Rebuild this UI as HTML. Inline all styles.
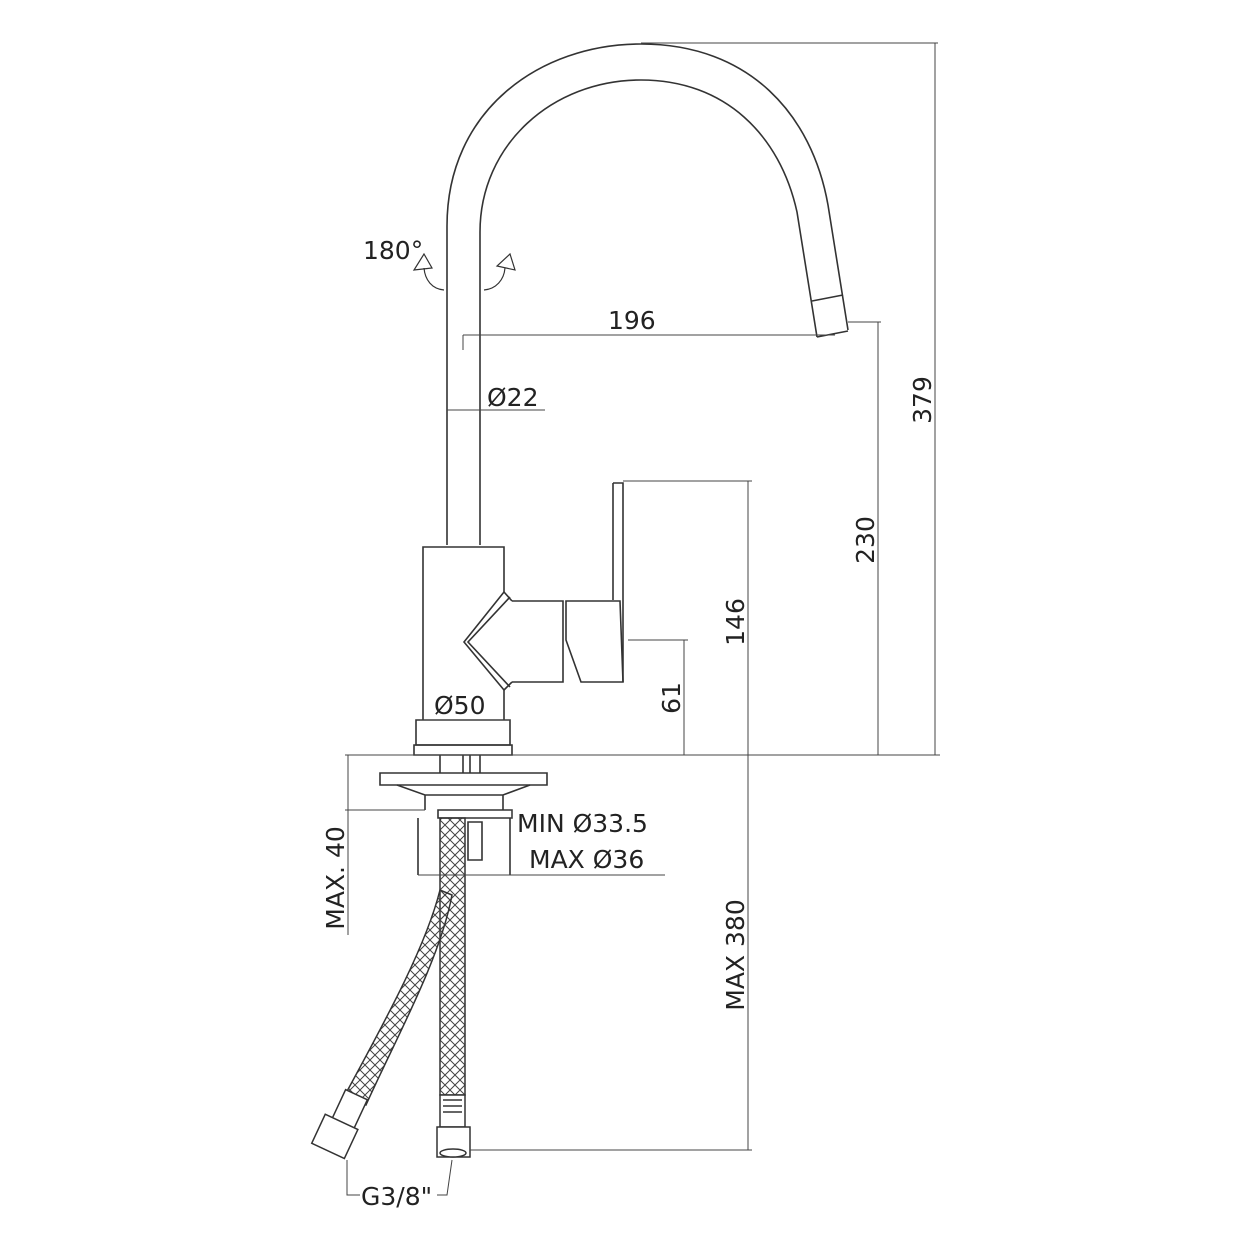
<!DOCTYPE html>
<html><head><meta charset="utf-8"><style>
html,body{margin:0;padding:0;background:#fff;}
svg{display:block;}
text{font-family:"DejaVu Sans","Liberation Sans",sans-serif;fill:#222;}
</style></head><body>
<svg width="1250" height="1250" viewBox="0 0 1250 1250" xmlns="http://www.w3.org/2000/svg">
<defs>
<pattern id="mesh" width="10" height="10" patternUnits="userSpaceOnUse">
<path d="M0,0 L10,10 M10,0 L0,10" stroke="#444" stroke-width="1" fill="none"/>
</pattern>
</defs>
<g fill="none" stroke="#333" stroke-width="1.6">
<path d="M447,545 L447,226 C447,110 540,44 641,44 C750,44 812,115 828,205 L848,330"/>
<path d="M480,545 L480,232 C480,145 552,80 641,80 C725,80 780,135 797,212 L817,337"/>
<path d="M812,301 L843,295 M817,337 L848,331"/>
<path d="M444,290 C432,289 425,280 424,268" stroke-width="1.2"/>
<path d="M484,290 C496,289 504,280 505,268" stroke-width="1.2"/>
<path d="M424,254 L414,270 L432,268 Z" stroke-width="1.2"/>
<path d="M510,254 L497,266 L515,270 Z" stroke-width="1.2"/>
<path d="M423,720 L423,547 L504,547 L504,592"/>
<path d="M504,690 L504,720"/>
<path d="M504,592 L464,642 L504,690 M510,597 L468,642 L510,687 M504,592 L512,601 M504,690 L512,682"/>
<path d="M512,601 L563,601 L563,682 L512,682"/>
<path d="M566,601 L620,601 L623,682 L581,682 L566,640 Z"/>
<path d="M613,483 L623,483 L623,682 M613,483 L613,600"/>
<path d="M416,720 L510,720 L510,745 L416,745 Z"/>
<path d="M414,745 L512,745 L512,755 L414,755 Z"/>
<path d="M440,755 L440,773 M463,755 L463,773 M470,755 L470,773 M480,755 L480,773"/>
<path d="M380,773 L547,773 L547,785 L380,785 Z"/>
<path d="M397,785 L425,795 L503,795 L530,785 M425,795 L425,810 M503,795 L503,810"/>
<path d="M438,810 L512,810 L512,818 L438,818 Z"/>
<path d="M418,818 L418,875 M510,818 L510,875"/>
<path d="M468,822 L482,822 L482,860 L468,860 Z"/>
</g>
<path d="M440,818 L440,1095 L465,1095 L465,818 Z" fill="url(#mesh)" stroke="#333" stroke-width="1.5"/>
<path d="M440,890 C425,950 380,1030 345,1095 L366,1105 C395,1040 440,960 452,895 Z" fill="url(#mesh)" stroke="#333" stroke-width="1.5"/>
<g fill="#fff" stroke="#333" stroke-width="1.5">
<rect x="440" y="1095" width="25" height="32"/>
<path d="M443,1100 L462,1100 M443,1106 L462,1106 M443,1112 L462,1112"/>
<path d="M437,1127 L470,1127 L470,1157 L437,1157 Z"/>
<ellipse cx="453" cy="1153" rx="13" ry="4"/>
<g transform="rotate(25 340 1130)">
<rect x="342" y="1093" width="24" height="32" transform="translate(-14,-2)"/>
<rect x="320" y="1122" width="36" height="32"/>
</g>
</g>
<g fill="none" stroke="#444" stroke-width="1">
<path d="M641,43 L938,43 M935,43 L935,755"/>
<path d="M848,322 L881,322 M878,322 L878,755"/>
<path d="M463,335 L835,335 M463,335 L463,350"/>
<path d="M447,410 L545,410"/>
<path d="M623,481 L752,481 M748,481 L748,755"/>
<path d="M628,640 L688,640 M684,640 L684,755"/>
<path d="M420,720 L510,720"/>
<path d="M345,755 L940,755"/>
<path d="M348,755 L348,935 M345,810 L425,810"/>
<path d="M418,875 L665,875 M512,810 L512,818"/>
<path d="M748,755 L748,1150 M470,1150 L752,1150"/>
<path d="M347,1160 L347,1195 L360,1195 M452,1160 L447,1195 L437,1195"/>
</g>
<g font-size="25">
<text x="363" y="259">180°</text>
<text x="608" y="329">196</text>
<text x="487" y="406">Ø22</text>
<text x="434" y="714">Ø50</text>
<text x="517" y="832">MIN Ø33.5</text>
<text x="529" y="868">MAX Ø36</text>
<text x="361" y="1205">G3/8"</text>
<text transform="translate(931,400) rotate(-90)" text-anchor="middle">379</text>
<text transform="translate(874,540) rotate(-90)" text-anchor="middle">230</text>
<text transform="translate(744,622) rotate(-90)" text-anchor="middle">146</text>
<text transform="translate(680,698) rotate(-90)" text-anchor="middle">61</text>
<text transform="translate(344,878) rotate(-90)" text-anchor="middle">MAX. 40</text>
<text transform="translate(744,955) rotate(-90)" text-anchor="middle">MAX 380</text>
</g>
</svg>
</body></html>
